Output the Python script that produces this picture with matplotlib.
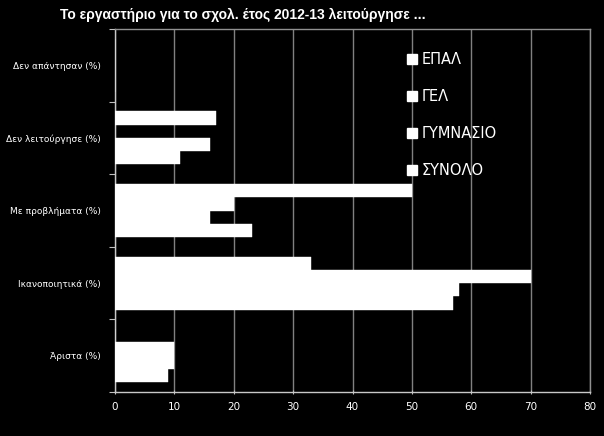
import matplotlib
matplotlib.use("Agg")
import matplotlib.pyplot as plt
from matplotlib.lines import Line2D
import numpy as np

categories = ["Άριστα (%)", "Ικανοποιητικά (%)", "Με προβλήματα (%)",
              "Δεν λειτούργησε (%)", "Δεν απάντησαν (%)"]
series_names = ["ΕΠΑΛ", "ΓΕΛ", "ΓΥΜΝΑΣΙΟ", "ΣΥΝΟΛΟ"]
epal = [0, 33, 50, 17, 0]
gel = [10, 70, 20, 0, 0]
gymnasio = [10, 58, 16, 16, 0]
synolo = [9, 57, 23, 11, 0]
xticks = [0, 10, 20, 30, 40, 50, 60, 70, 80]
title = "Το εργαστήριο για το σχολ. έτος 2012-13 λειτούργησε ..."

fig = plt.figure(figsize=(6.04, 4.36), dpi=100, facecolor="black")
ax = fig.add_axes([115/604, 1-392/436, (590-115)/604, (392-29)/436])
ax.set_facecolor("black")

y = np.arange(len(categories))
h = 0.183
offsets = [1.5*h, 0.5*h, -0.5*h, -1.5*h]
for vals, off, name in zip([epal, gel, gymnasio, synolo], offsets, series_names):
    ax.barh(y + off, vals, height=h, color="white", edgecolor="white",
            linewidth=0.3, zorder=3, label=name)

ax.set_xlim(0, 80)
ax.set_ylim(-0.5, 4.5)
ax.set_xticks(xticks)
ax.set_xticklabels([str(t) for t in xticks], color="white", fontsize=7.5)
ax.xaxis.grid(True, color="#808080", linewidth=1.0, zorder=0)
ax.set_axisbelow(True)

ax.set_yticks(np.arange(-0.5, 5.0, 1.0))
ax.set_yticklabels([])
ax.set_yticks(y, minor=True)
ax.set_yticklabels(categories, minor=True, color="white", fontsize=6.5)
ax.tick_params(axis="y", which="minor", length=0, pad=10)
ax.tick_params(axis="y", which="major", length=4, color="#c0c0c0", direction="out")
ax.tick_params(axis="x", length=3, color="#c0c0c0", direction="inout", pad=6)

for s in ["left", "bottom"]:
    ax.spines[s].set_color("#c8c8c8")
    ax.spines[s].set_linewidth(1.0)
for s in ["top", "right"]:
    ax.spines[s].set_color("#909090")
    ax.spines[s].set_linewidth(1.0)

handles = [Line2D([0], [0], marker="s", linestyle="none", markersize=7,
                  markerfacecolor="white", markeredgecolor="white") for _ in series_names]
leg = ax.legend(handles, series_names, loc="upper left",
                bbox_to_anchor=(407/604, 1-52/436), bbox_transform=fig.transFigure,
                frameon=False, fontsize=10.5, labelcolor="white",
                handlelength=0.7, handletextpad=0.3, labelspacing=1.5,
                borderpad=0, borderaxespad=0)

fig.text(60/604, 1-15/436, title, color="white", fontsize=10,
         fontweight="bold", family="Liberation Sans", ha="left", va="center")

fig.savefig("out.png", dpi=100, facecolor="black")
